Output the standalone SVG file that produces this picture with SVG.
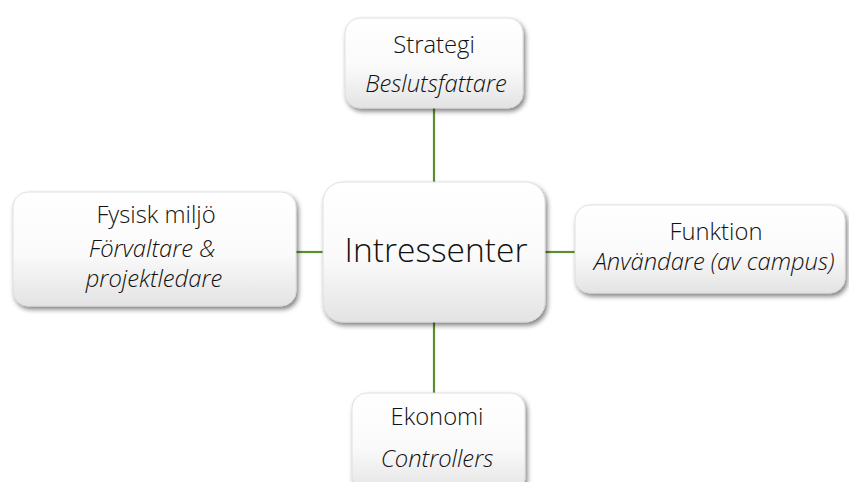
<svg xmlns="http://www.w3.org/2000/svg" width="849" height="482" viewBox="0 0 849 482">
  <defs>
    <linearGradient id="boxFill" x1="0" y1="0" x2="0" y2="1">
      <stop offset="0" stop-color="#ffffff"/>
      <stop offset="0.55" stop-color="#fafafa"/>
      <stop offset="1" stop-color="#e3e3e3"/>
    </linearGradient>
    <filter id="shadow" x="-10%" y="-10%" width="125%" height="130%">
      <feGaussianBlur in="SourceAlpha" stdDeviation="2.5"/>
      <feOffset dx="2" dy="3" result="blur"/>
      <feComponentTransfer><feFuncA type="linear" slope="0.5"/></feComponentTransfer>
      <feMerge><feMergeNode/><feMergeNode in="SourceGraphic"/></feMerge>
    </filter>
  </defs>
  <style>
    .box { fill: url(#boxFill); stroke: #d9d9d9; stroke-width: 0.8; filter: url(#shadow); }
    .link { stroke: #5b8f2e; stroke-width: 2.2; fill: none; }
    text { font-family: "Open Sans", "Liberation Sans", sans-serif; font-weight: 300; fill: #111; text-anchor: middle; }
    .t { font-size: 23.8px; }
    .i { font-size: 23.8px; font-style: italic; }
    .c { font-size: 33.5px; }
  </style>
  <rect width="849" height="482" fill="#ffffff"/>

  <g id="connectors">
    <line class="link" x1="434" y1="108" x2="434" y2="183"/>
    <line class="link" x1="434" y1="321" x2="434" y2="394"/>
    <line class="link" x1="295" y1="252" x2="324" y2="252"/>
    <line class="link" x1="544" y1="252" x2="576" y2="252"/>
  </g>

  <g id="strategi">
    <rect class="box" x="345" y="18" width="178" height="90" rx="15"/>
    <text class="t" x="434" y="53">Strategi</text>
    <text class="i" x="436" y="92">Beslutsfattare</text>
  </g>

  <g id="fysisk-miljo">
    <rect class="box" x="13" y="192" width="283" height="114" rx="15"/>
    <text class="t" x="156" y="223">Fysisk miljö</text>
    <text class="i" x="152" y="257">Förvaltare &amp;</text>
    <text class="i" x="154" y="287">projektledare</text>
  </g>

  <g id="intressenter">
    <rect class="box" x="323" y="182" width="222" height="140" rx="20"/>
    <text class="c" x="436" y="262">Intressenter</text>
  </g>

  <g id="funktion">
    <rect class="box" x="575" y="205" width="270" height="88" rx="15"/>
    <text class="t" x="716" y="240">Funktion</text>
    <text class="i" x="714" y="270">Användare (av campus)</text>
  </g>

  <g id="ekonomi">
    <rect class="box" x="352" y="393" width="173" height="100" rx="15"/>
    <text class="t" x="437" y="425">Ekonomi</text>
    <text class="i" x="437" y="467">Controllers</text>
  </g>
</svg>
